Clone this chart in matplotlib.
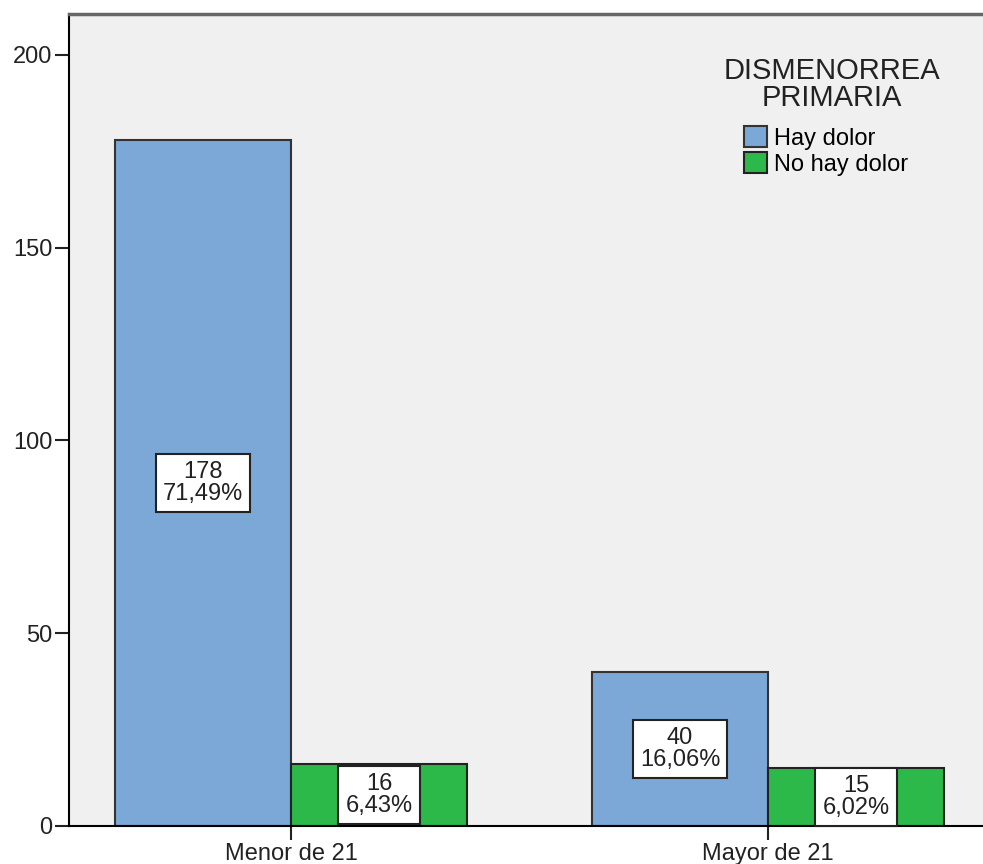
import matplotlib.pyplot as plt
import numpy as np

plt.rcParams['font.family'] = ['Liberation Sans', 'DejaVu Sans']

categorias = ['Menor de 21', 'Mayor de 21']
series = ['Hay dolor', 'No hay dolor']
hay_dolor = [178, 40]
no_hay_dolor = [16, 15]
pct_hay = ['71,49%', '16,06%']
pct_no = ['6,43%', '6,02%']

azul = '#7BA8D6'
verde = '#2DB84A'

fig = plt.figure(figsize=(9.83, 8.64), dpi=100)
ax = fig.add_axes([0.0702, 0.044, 0.9298, 0.9398])
ax.set_facecolor('#F0F0F0')

x = np.arange(len(categorias))
w = 0.369
ax.bar(x - w / 2, hay_dolor, w, color=azul, edgecolor='#333333', lw=1.5, label=series[0])
ax.bar(x + w / 2, no_hay_dolor, w, color=verde, edgecolor='#222222', lw=1.5, label=series[1])

caja = dict(boxstyle='square,pad=0.3', fc='white', ec='#222222', lw=1.5)
for i in range(len(categorias)):
    ax.text(x[i] - w / 2, hay_dolor[i] / 2, f'{hay_dolor[i]}\n{pct_hay[i]}', ha='center', va='center',
            fontsize=17, linespacing=1.0, bbox=caja, color='#222222')
    ax.text(x[i] + w / 2, no_hay_dolor[i] / 2, f'{no_hay_dolor[i]}\n{pct_no[i]}', ha='center', va='center',
            fontsize=17, linespacing=1.0, bbox=caja, color='#222222')

ax.set_xlim(-0.4654, 1.4507)
ax.set_ylim(0, 210.6)
ax.set_yticks([0, 50, 100, 150, 200])
ax.set_xticks(x)
ax.set_xticklabels(categorias)
ax.tick_params(axis='both', labelsize=17, length=10, width=1.5, direction='out', colors='#222222', pad=2)

ax.spines['right'].set_visible(False)
ax.spines['left'].set_linewidth(1.5)
ax.spines['bottom'].set_linewidth(1.5)
ax.spines['top'].set_linewidth(2.5)
ax.spines['top'].set_color('#666666')

# titulo de la leyenda
ax.text(0.835, 0.947, 'DISMENORREA\nPRIMARIA', transform=ax.transAxes, ha='center', va='top',
        fontsize=21, linespacing=0.95, color='#222222')
ax.legend(loc='upper left', bbox_to_anchor=(0.738, 0.862), frameon=False, fontsize=17,
          handlelength=1.0, handleheight=1.0, handletextpad=0.3, labelspacing=0.1,
          borderpad=0, borderaxespad=0)

plt.savefig('out.png', dpi=100)
